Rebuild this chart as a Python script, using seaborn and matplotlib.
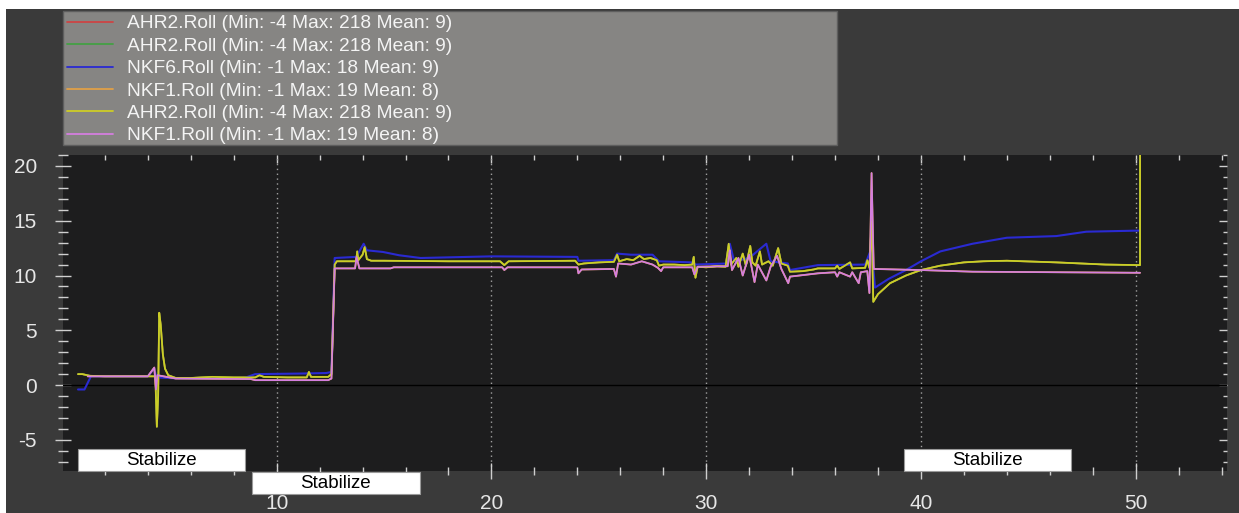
import numpy as np
import pandas as pd
import seaborn as sns
import matplotlib.pyplot as plt
from matplotlib.patches import Rectangle
from matplotlib.ticker import MultipleLocator

# AHR2.Roll (red, green and yellow traces are the same message)
ahr2_t = [0.75, 0.95, 1.3, 2.0, 3.0, 4.0, 4.35, 4.42, 4.48, 4.53, 4.6, 4.7, 4.8, 4.95,
          5.3, 6.0, 7.0, 8.0, 9.0, 9.2, 9.4, 10.5, 11.4, 11.5, 11.6, 12.4, 12.55, 12.7,
          12.8, 13.7, 13.75, 13.8, 14.0, 14.1, 14.2, 14.4, 15.0, 18.0, 20.4, 20.6, 20.8,
          23.9, 24.05, 24.3, 25.0, 25.7, 25.85, 25.95, 26.3, 26.6, 26.9, 27.1, 27.4, 27.7,
          27.8, 28.0, 28.5, 29.0, 29.35, 29.42, 29.5, 29.6, 30.0, 30.5, 30.9, 31.05, 31.15,
          31.4, 31.5, 31.7, 31.85, 32.05, 32.15, 32.3, 32.5, 32.6, 32.9, 33.1, 33.35, 33.5,
          33.8, 33.9, 34.5, 35.0, 35.2, 36.0, 36.1, 36.2, 36.7, 36.8, 37.4, 37.5, 37.6,
          37.7, 37.78, 38.0, 38.56, 39.3, 40.0, 40.9, 42.0, 42.9, 44.0, 46.3, 48.6, 50.2,
          50.25]
ahr2_roll = [1.0, 1.0, 0.85, 0.8, 0.8, 0.8, 0.8, -3.8, -1.0, 6.6, 5.5, 2.8, 1.5, 0.9,
             0.65, 0.65, 0.75, 0.7, 0.7, 0.9, 0.75, 0.7, 0.7, 1.2, 0.75, 0.75, 1.0, 11.0,
             11.3, 11.3, 12.2, 11.4, 11.9, 12.6, 11.5, 11.35, 11.35, 11.3, 11.3, 10.95, 11.3,
             11.35, 11.0, 11.1, 11.2, 11.25, 11.9, 11.3, 11.5, 11.4, 11.8, 11.5, 11.6, 11.4,
             10.9, 11.0, 11.0, 10.95, 11.0, 11.7, 9.8, 10.8, 10.75, 10.85, 10.8, 12.9, 11.0,
             11.6, 10.8, 12.0, 10.9, 12.7, 11.2, 10.9, 12.2, 11.0, 11.3, 10.9, 12.5, 11.1,
             10.9, 10.35, 10.4, 10.55, 10.65, 10.65, 10.9, 10.6, 11.2, 10.65, 10.7, 11.4, 10.7,
             14.9, 7.6, 8.3, 9.3, 10.0, 10.5, 10.9, 11.2, 11.3, 11.35, 11.2, 11.0, 10.95,
             218.0]

# NKF6.Roll
nkf6_t = [0.75, 1.05, 1.35, 4.0, 4.3, 4.4, 5.3, 7.0, 8.5, 9.0, 11.0, 12.3, 12.55, 12.7,
          13.7, 14.05, 14.2, 14.95, 15.7, 16.7, 20.0, 24.0, 24.05, 25.7, 25.85, 26.5, 27.5,
          27.8, 29.3, 29.5, 31.0, 31.1, 31.3, 32.0, 32.8, 33.0, 33.8, 33.9, 35.2, 37.4,
          37.7, 37.86, 38.5, 39.3, 40.0, 40.9, 42.4, 44.0, 46.3, 47.7, 50.15]
nkf6_roll = [-0.4, -0.4, 0.8, 0.8, 1.5, 0.7, 0.62, 0.62, 0.65, 1.0, 1.05, 1.1, 1.2, 11.6,
             11.7, 12.9, 12.3, 12.15, 11.85, 11.6, 11.75, 11.7, 11.35, 11.4, 12.0, 11.9, 11.9,
             11.3, 11.2, 11.0, 11.1, 12.9, 11.3, 11.6, 12.9, 11.3, 11.1, 10.5, 10.95, 11.0,
             12.5, 8.9, 9.7, 10.5, 11.3, 12.2, 12.9, 13.45, 13.6, 14.0, 14.1]

# NKF1.Roll (orange and violet traces are the same message)
nkf1_t = [1.2, 4.0, 4.3, 4.38, 4.45, 5.3, 8.8, 9.0, 12.4, 12.55, 12.7, 13.65, 13.72, 13.85,
          15.3, 15.45, 20.5, 20.6, 20.75, 24.0, 24.05, 24.2, 25.7, 25.8, 25.9, 26.5, 27.0,
          27.5, 27.75, 27.9, 28.0, 29.35, 29.45, 29.6, 31.0, 31.1, 31.2, 31.5, 31.7, 32.0,
          32.25, 32.4, 32.8, 33.0, 33.3, 33.5, 33.82, 33.9, 35.2, 36.0, 36.1, 36.2, 36.7,
          36.8, 37.1, 37.2, 37.5, 37.6, 37.7, 37.8, 40.0, 42.4, 50.2]
nkf1_roll = [0.8, 0.8, 1.6, -0.4, 0.9, 0.6, 0.55, 0.45, 0.45, 0.6, 10.65, 10.65, 11.7, 10.65,
             10.65, 10.75, 10.75, 10.5, 10.75, 10.75, 10.2, 10.55, 10.6, 9.9, 11.1, 11.0, 11.3,
             11.0, 10.7, 10.4, 10.75, 10.75, 10.1, 10.8, 10.85, 12.3, 10.5, 11.6, 10.0, 11.9,
             9.4, 11.0, 9.55, 10.8, 11.8, 10.6, 9.3, 9.9, 10.2, 10.3, 9.9, 10.3, 9.9,
             10.3, 9.3, 10.3, 10.4, 8.4, 19.35, 10.6, 10.5, 10.35, 10.25]

labels = ["AHR2.Roll (Min: -4 Max: 218 Mean: 9)",
          "AHR2.Roll (Min: -4 Max: 218 Mean: 9)",
          "NKF6.Roll (Min: -1 Max: 18 Mean: 9)",
          "NKF1.Roll (Min: -1 Max: 19 Mean: 8)",
          "AHR2.Roll (Min: -4 Max: 218 Mean: 9)",
          "NKF1.Roll (Min: -1 Max: 19 Mean: 8)"]

mode_times = [0.74, 8.85, 39.2]
mode_names = ["Stabilize", "Stabilize", "Stabilize"]

sns.set_theme(style="dark")
plt.rcParams['font.family'] = ['Liberation Sans', 'DejaVu Sans']
plt.rcParams['axes.unicode_minus'] = False

W, H = 1239, 513
fig = plt.figure(figsize=(W / 100, H / 100), dpi=100, facecolor='#3a3a3a')
ax = fig.add_axes([63 / W, 42 / H, 1164 / W, 316 / H])
ax.set_facecolor('#1d1d1e')

# white screenshot border on top and left
fig.patches.append(Rectangle((0, 1 - 9 / H), 1, 9 / H, transform=fig.transFigure,
                             fc='white', ec='none', zorder=0))
fig.patches.append(Rectangle((0, 0), 6 / W, 1, transform=fig.transFigure,
                             fc='white', ec='none', zorder=0))

traces = [
    (ahr2_t, ahr2_roll, '#cc4444', 1.2),
    (ahr2_t, ahr2_roll, '#44a044', 1.2),
    (nkf6_t, nkf6_roll, '#2a2ad2', 1.5),
    (nkf1_t, nkf1_roll, '#e0a048', 1.3),
    (ahr2_t, ahr2_roll, '#cdcd26', 1.3),
    (nkf1_t, nkf1_roll, '#d47ee0', 1.2),
]
for (t, v, c, lw), lab in zip(traces, labels):
    sns.lineplot(x=t, y=v, ax=ax, color=c, lw=lw, label=lab, sort=False, estimator=None)

ax.set_xlim(0.05, 54.25)
ax.set_ylim(-7.84, 21.0)
ax.axhline(0, color='black', lw=1, zorder=1)
ax.xaxis.set_major_locator(MultipleLocator(10))
ax.xaxis.set_minor_locator(MultipleLocator(2))
ax.yaxis.set_major_locator(MultipleLocator(5))
ax.yaxis.set_minor_locator(MultipleLocator(1))
ax.grid(True, axis='x', which='major', color='#a0a0a0', linestyle=(0, (1, 2.5)), lw=1)
ax.grid(False, axis='y')
for s in ax.spines.values():
    s.set_visible(False)
ax.set_xlabel('')
ax.set_ylabel('')

tc = '#cfcfcf'
ax.tick_params(axis='x', which='major', direction='inout', length=11, width=1, color=tc,
               labelsize=15, labelcolor='#e6e6e6', pad=11, bottom=True)
ax.tick_params(axis='x', which='minor', direction='inout', length=6, width=1, color=tc,
               bottom=True)
ax.tick_params(axis='y', which='major', direction='inout', length=11.5, width=1, color=tc,
               labelsize=15, labelcolor='#e6e6e6', pad=13, left=True)
ax.tick_params(axis='y', which='minor', direction='inout', length=7, width=1, color=tc,
               left=True)

top = ax.secondary_xaxis('top')
top.xaxis.set_major_locator(MultipleLocator(10))
top.xaxis.set_minor_locator(MultipleLocator(2))
top.tick_params(which='major', direction='in', length=6, width=1, color=tc, labeltop=False, top=True)
top.tick_params(which='minor', direction='in', length=3.5, width=1, color=tc, top=True)
right = ax.secondary_yaxis('right')
right.yaxis.set_major_locator(MultipleLocator(5))
right.yaxis.set_minor_locator(MultipleLocator(1))
right.tick_params(which='major', direction='in', length=6, width=1, color=tc, labelright=False, right=True)
right.tick_params(which='minor', direction='in', length=3, width=1, color=tc, right=True)
for sec in (top, right):
    for s in sec.spines.values():
        s.set_visible(False)

# flight mode labels, alternating rows
box_w = 7.8
for i, (mt, name) in enumerate(zip(mode_times, mode_names)):
    y0 = -7.84 if i % 2 == 0 else -9.94
    ax.add_patch(Rectangle((mt, y0), box_w, 2.0, fc='white', ec='#9a9a9a', lw=0.8,
                           clip_on=False, zorder=6))
    ax.text(mt + box_w / 2, y0 + 1.0, name, ha='center', va='center', fontsize=13.5,
            color='black', zorder=7, clip_on=False)

# legend panel
handles, labs = ax.get_legend_handles_labels()
ax.get_legend().remove()
fig.patches.append(Rectangle((63 / W, 1 - 145 / H), 774 / W, 134 / H, transform=fig.transFigure,
                             fc='#868583', ec='#5e5e5e', lw=1, zorder=1))
leg = fig.legend(handles, labs, loc='upper left', bbox_to_anchor=(67 / W, 1 - 15 / H),
                 bbox_transform=fig.transFigure, frameon=False, fontsize=13.8,
                 labelcolor='#f4f4f4', handlelength=2.4, handletextpad=0.72,
                 labelspacing=0.26, borderpad=0, borderaxespad=0)
for ln in leg.get_lines():
    ln.set_linewidth(1.3)

plt.savefig("out.png", dpi=100, facecolor=fig.get_facecolor())
